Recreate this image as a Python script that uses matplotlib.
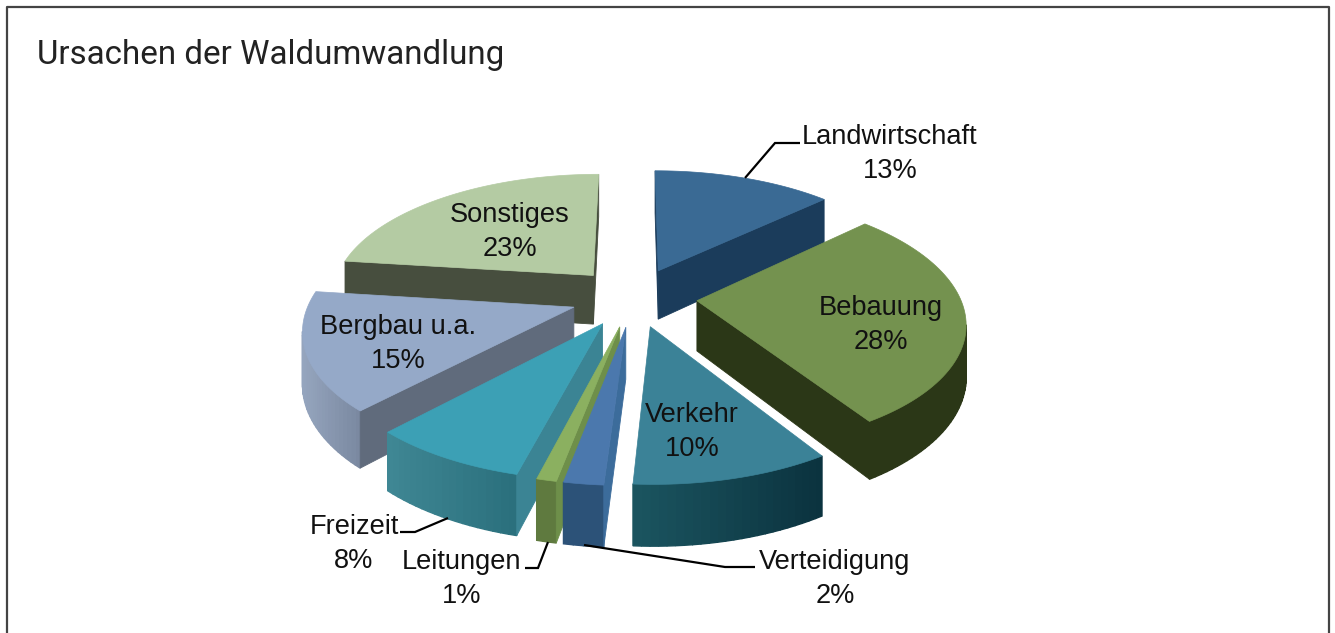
"""Exploded 3D pie: Ursachen der Waldumwandlung."""
import numpy as np
import matplotlib
matplotlib.use("Agg")
import matplotlib.pyplot as plt
from matplotlib.colors import to_rgb
from matplotlib.patches import Polygon

# Data
labels = ["Landwirtschaft", "Bebauung", "Verkehr", "Verteidigung",
          "Leitungen", "Freizeit", "Bergbau u.a.", "Sonstiges"]
shares = [13, 28, 10, 2, 1, 8, 15, 23]

# Styles per slice
top_colors = ["#3A6A94", "#74924F", "#3B8297", "#4B78AD", "#8BB060", "#3CA0B5", "#95A9C8", "#B4CBA3"]
cut_colors = ["#1B3C5B", "#2B3717", "#1B5560", "#3C6C9B", "#6E8F4A", "#3B8494", "#606B7C", "#474E3E"]
wall_left = ["#1B3C5B", "#2B3717", "#1B5560", "#2C5278", "#5F7A3F", "#3F8794", "#95A5BE", "#474E3E"]
wall_right = ["#1B3C5B", "#2B3717", "#0B323E", "#2C5278", "#5F7A3F", "#2A6F7C", "#7A88A0", "#474E3E"]

# Text layout in image pixels
label_pos = [(890, 154), (881, 325), (692, 432), (835, 579), (462, 579), (354, 544), (398, 344), (510, 232)]
leaders = {
    "Landwirtschaft": [(745, 178), (775, 143), (800, 143)],
    "Verteidigung": [(584, 545), (725, 567), (755, 567)],
    "Leitungen": [(548, 542), (538, 568), (525, 568)],
    "Freizeit": [(448, 518), (415, 532), (400, 532)],
}

# Pie geometry in image pixels
CX, CY = 634, 297
RX, RY = 263, 123
DEPTH = 50
PERSP = 0.155
EXPLODE = 0.24


def project(x, y, z=0.0):
    s = 1.0 / (1.0 - PERSP * y)
    return CX + x * RX * s, CY + y * RY * s + z * DEPTH * s


def mix(c1, c2, t):
    return tuple((1 - t) * a + t * b for a, b in zip(to_rgb(c1), to_rgb(c2)))


def draw_slice(ax, a0, a1, idx):
    mid = (a0 + a1) / 2
    ox, oy = EXPLODE * np.sin(mid), -EXPLODE * np.cos(mid)
    angles = np.linspace(a0, a1, max(int((a1 - a0) * 40), 4))
    rim_x = ox + np.sin(angles)
    rim_y = oy - np.cos(angles)

    tip = project(ox, oy)
    tip_low = project(ox, oy, 1)
    rim = [project(x, y) for x, y in zip(rim_x, rim_y)]
    rim_low = [project(x, y, 1) for x, y in zip(rim_x, rim_y)]
    inner = project(ox + 0.5 * np.sin(mid), oy - 0.5 * np.cos(mid))

    # outer wall, split up for the shading
    xs = np.array([p[0] for p in rim])
    span = max(xs.max() - xs.min(), 1)
    for i in range(len(rim) - 1):
        if rim[i + 1][0] < rim[i][0]:
            t = ((xs[i] + xs[i + 1]) / 2 - xs.min()) / span
            col = mix(wall_left[idx], wall_right[idx], t)
            ax.add_patch(Polygon([rim[i], rim[i + 1], rim_low[i + 1], rim_low[i]],
                                 fc=col, ec=col, lw=1.0))

    # the two cut faces, only if they look towards the viewer
    for edge, edge_low in ((rim[0], rim_low[0]), (rim[-1], rim_low[-1])):
        dx, dy = edge[0] - tip[0], edge[1] - tip[1]
        vx, vy = inner[0] - tip[0], inner[1] - tip[1]
        if dx * (dx * vy - dy * vx) < 0:
            ax.add_patch(Polygon([tip, edge, edge_low, tip_low],
                                 fc=cut_colors[idx], ec=cut_colors[idx], lw=0.6))

    ax.add_patch(Polygon([tip] + rim, fc=top_colors[idx], ec=top_colors[idx], lw=0.5))


fig = plt.figure(figsize=(13.35, 6.33), dpi=100)
ax = fig.add_axes([0, 0, 1, 1])
ax.set_xlim(0, 1335)
ax.set_ylim(633, 0)
ax.axis("off")

# Frame, open at the bottom
ax.plot([6.5, 6.5, 1329, 1329], [633, 6.5, 6.5, 633], color="#444444", lw=1.6)

ax.text(37, 55, "Ursachen der Waldumwandlung", fontsize=23.9, family="Roboto",
        color="#222222", va="center", ha="left")

# Slices clockwise from twelve o'clock, painted back to front
edges = np.cumsum([0] + shares) / sum(shares) * 2 * np.pi
order = sorted(range(len(shares)), key=lambda i: np.cos((edges[i] + edges[i + 1]) / 2), reverse=True)
for i in order:
    draw_slice(ax, edges[i], edges[i + 1], i)

for pts in leaders.values():
    ax.plot(*zip(*pts), color="black", lw=1.6, solid_capstyle="butt", solid_joinstyle="miter")

for name, share, pos in zip(labels, shares, label_pos):
    ax.text(pos[0], pos[1], f"{name}\n{share}%", fontsize=19.6, family="Liberation Sans",
            color="#111111", ha="center", va="center", linespacing=1.36)

fig.savefig("out.png", dpi=100)
